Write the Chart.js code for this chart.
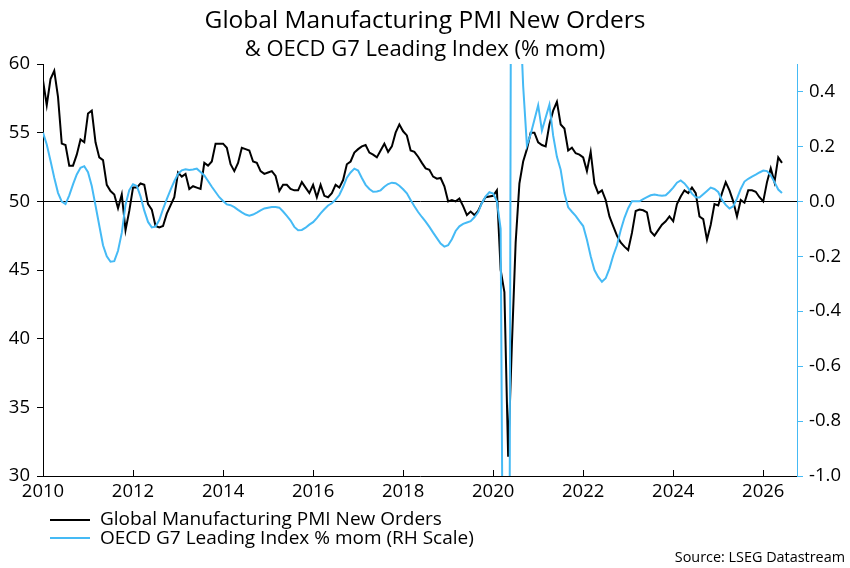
<!DOCTYPE html>
<html>
<head>
<meta charset="utf-8">
<script src="https://cdn.jsdelivr.net/npm/chart.js@4.4.1/dist/chart.umd.min.js"></script>
<style>
  html, body { margin: 0; padding: 0; background: #fff; }
  #wrap { position: relative; width: 850px; height: 568px; font-family: "Open Sans", sans-serif; color: #000; }
  #chart { position: absolute; left: 0; top: 0; }
  #title { position: absolute; left: 0; top: 4px; width: 850px; text-align: center; font-size: 24.5px; line-height: 30px; }
  #subtitle { position: absolute; left: 0; top: 33px; width: 850px; text-align: center; font-size: 22px; line-height: 28px; }
  #legend { position: absolute; left: 50px; top: 509px; font-size: 19px; line-height: 18.5px; white-space: nowrap; }
  #legend .swatch { display: inline-block; width: 40px; height: 2px; vertical-align: middle; margin-right: 10px; }
  #source { position: absolute; right: 5px; top: 548px; font-size: 14.4px; line-height: 17px; }
</style>
</head>
<body>
<div id="wrap">
  <canvas id="chart" width="850" height="568"></canvas>
  <div id="title">Global Manufacturing PMI New Orders</div>
  <div id="subtitle">&amp; OECD G7 Leading Index (% mom)</div>
  <div id="legend">
    <div><span class="swatch" style="background:#000"></span>Global Manufacturing PMI New Orders</div>
    <div><span class="swatch" style="background:#45baf5"></span>OECD G7 Leading Index % mom (RH Scale)</div>
  </div>
  <div id="source">Source: LSEG Datastream</div>
</div>
<script>
// monthly, first value = Dec 2009 (plotted at month end)
const firstMonth = 2010

const pmiNewOrders = [58.8,
  57.0, 58.9, 59.5, 57.6, 54.2, 54.1, 52.6, 52.6, 53.4, 54.5, 54.3, 56.4,
  56.6, 54.3, 53.2, 53.0, 51.2, 50.75, 50.5, 49.5, 50.5, 47.9, 49.3, 51.0,
  51.0, 51.3, 51.2, 49.8, 49.4, 48.2, 48.1, 48.2, 49.1, 49.7, 50.3, 52.1,
  51.8, 52.0, 50.9, 51.1, 51.0, 50.9, 52.8, 52.6, 52.9, 54.2, 54.2, 54.2,
  53.9, 52.7, 52.2, 52.8, 53.9, 53.8, 53.7, 52.9, 52.8, 52.2, 52.0, 52.1,
  52.2, 51.85, 50.75, 51.2, 51.2, 50.9, 50.8, 50.8, 51.4, 51.0, 50.6, 51.2,
  50.3, 51.2, 50.4, 50.3, 50.6, 51.2, 51.0, 51.55, 52.7, 52.9, 53.55, 53.8,
  54.0, 54.1, 53.55, 53.4, 53.2, 53.7, 54.2, 53.6, 54.0, 55.0, 55.6, 55.1,
  54.8, 53.7, 53.6, 53.25, 52.8, 52.4, 52.3, 51.8, 51.65, 51.7, 51.1, 50.0,
  50.1, 50.0, 50.2, 49.65, 49.0, 49.25, 49.0, 49.3, 49.9, 50.3, 50.35, 50.4,
  50.8, 45.0, 43.4, 31.4, 39.6, 47.0, 51.3, 52.9, 53.8, 55.0, 55.0, 54.3,
  54.1, 54.0, 55.6, 56.6, 57.25, 55.6, 55.3, 53.7, 53.9, 53.5, 53.4, 53.2,
  52.2, 53.6, 51.3, 50.6, 50.8, 50.1, 48.9, 48.2, 47.5, 47.0, 46.7, 46.45,
  47.7, 49.3, 49.4, 49.35, 49.2, 47.8, 47.5, 47.9, 48.3, 48.55, 48.9, 48.55,
  49.8, 50.35, 50.8, 50.6, 51.0, 50.6, 48.9, 48.7, 47.2, 48.3, 49.8, 49.7,
  50.6, 51.4, 50.8, 50.0, 48.9, 50.1, 49.9, 50.8, 50.8, 50.7, 50.3, 50.0,
  51.4, 52.4, 51.4, 53.2, 52.8]

const oecdLeadingMom = [0.25,
  0.207, 0.148, 0.086, 0.031, -0.001, -0.01, 0.022, 0.062, 0.098, 0.122, 0.128, 0.106,
  0.056, -0.015, -0.088, -0.16, -0.2, -0.22, -0.218, -0.18, -0.115, -0.012, 0.041, 0.062,
  0.056, 0.018, -0.034, -0.075, -0.095, -0.092, -0.068, -0.028, 0.008, 0.042, 0.073, 0.1,
  0.113, 0.117, 0.114, 0.116, 0.119, 0.107, 0.094, 0.074, 0.053, 0.034, 0.015, 0.001,
  -0.011, -0.014, -0.021, -0.031, -0.04, -0.048, -0.052, -0.048, -0.041, -0.033, -0.026, -0.023,
  -0.021, -0.021, -0.023, -0.037, -0.053, -0.07, -0.093, -0.105, -0.104, -0.096, -0.085, -0.076,
  -0.061, -0.044, -0.029, -0.015, -0.007, 0.006, 0.023, 0.052, 0.086, 0.105, 0.119, 0.112,
  0.085, 0.06, 0.045, 0.035, 0.036, 0.04, 0.053, 0.063, 0.068, 0.066, 0.057, 0.044,
  0.029, 0.005, -0.018, -0.039, -0.057, -0.074, -0.093, -0.114, -0.134, -0.154, -0.165, -0.16,
  -0.138, -0.108, -0.091, -0.082, -0.077, -0.072, -0.058, -0.04, -0.006, 0.018, 0.033, 0.028,
  0.0, -0.1, -2.35, -3.43, 2.27, 1.6, 0.75, 0.42, 0.204, 0.244, 0.297, 0.35,
  0.258, 0.305, 0.352, 0.239, 0.162, 0.115, 0.03, -0.022, -0.038, -0.053, -0.072, -0.09,
  -0.14, -0.2, -0.25, -0.275, -0.293, -0.28, -0.245, -0.198, -0.16, -0.105, -0.06, -0.025,
  0.0, 0.0, 0.0, 0.008, 0.015, 0.022, 0.025, 0.022, 0.02, 0.022, 0.035, 0.05,
  0.068, 0.076, 0.065, 0.048, 0.028, 0.015, 0.014, 0.026, 0.038, 0.05, 0.045, 0.034,
  0.005, -0.013, -0.026, -0.018, 0.01, 0.045, 0.072, 0.082, 0.09, 0.097, 0.105, 0.112,
  0.11, 0.095, 0.07, 0.043, 0.03]

const xTicks = [2010, 2012, 2014, 2016, 2018, 2020, 2022, 2024, 2026]
const leftTicks = [30, 35, 40, 45, 50, 55, 60]
const rightTicks = [-1.0, -0.8, -0.6, -0.4, -0.2, 0.0, 0.2, 0.4]

const BLUE = '#45baf5'
const tickFont = { family: 'Open Sans', size: 18.5 }

const toPoints = values => values.map((v, i) => ({ x: firstMonth + i / 12, y: v }))

// x axis tick marks point up into the plot
const innerXTicks = {
    id: 'innerXTicks',
    afterDraw(chart) {
        const { ctx, chartArea, scales } = chart
        ctx.save()
        ctx.strokeStyle = '#000'
        ctx.lineWidth = 1
        scales.x.ticks.forEach(t => {
            const px = Math.round(scales.x.getPixelForValue(t.value)) + 0.5
            ctx.beginPath()
            ctx.moveTo(px, chartArea.bottom)
            ctx.lineTo(px, chartArea.bottom - 6)
            ctx.stroke()
        })
        ctx.restore()
    }
}

new Chart(document.getElementById('chart').getContext('2d'), {
    type: 'line',
    data: {
        datasets: [{
            label: 'Global Manufacturing PMI New Orders',
            data: toPoints(pmiNewOrders),
            borderColor: '#000',
            borderWidth: 2,
            pointRadius: 0,
            yAxisID: 'y',
            order: 1,
            clip: 0
        }, {
            label: 'OECD G7 Leading Index % mom (RH Scale)',
            data: toPoints(oecdLeadingMom),
            borderColor: BLUE,
            borderWidth: 2,
            pointRadius: 0,
            yAxisID: 'y1',
            order: 0,
            clip: 0
        }]
    },
    options: {
        responsive: false,
        animation: false,
        devicePixelRatio: 1,
        layout: { padding: { top: 64, bottom: 62, left: 0, right: 0 } },
        plugins: { legend: { display: false }, title: { display: false }, tooltip: { enabled: false } },
        scales: {
            x: {
                type: 'linear',
                min: 2010,
                max: 2026.75,
                afterBuildTicks: s => { s.ticks = xTicks.map(v => ({ value: v })) },
                afterFit: s => { s.height = 30 },
                ticks: { font: tickFont, color: '#000', padding: 5, maxRotation: 0, autoSkip: false, callback: v => String(v) },
                grid: { drawOnChartArea: false, drawTicks: false },
                border: { color: '#000', width: 1 }
            },
            y: {
                position: 'left',
                min: 30,
                max: 60,
                afterBuildTicks: s => { s.ticks = leftTicks.map(v => ({ value: v })) },
                afterFit: s => { s.width = 43 },
                ticks: { font: tickFont, color: '#000', padding: 7, callback: v => String(v) },
                grid: {
                    color: ctx => (ctx.tick && ctx.tick.value === 50) ? '#000' : 'rgba(0,0,0,0)',
                    tickColor: '#000',
                    tickLength: 6,
                    lineWidth: 1
                },
                border: { color: '#000', width: 1 }
            },
            y1: {
                position: 'right',
                min: -1.0,
                max: 0.5,
                afterBuildTicks: s => { s.ticks = rightTicks.map(v => ({ value: v })) },
                afterFit: s => { s.width = 53 },
                ticks: { font: tickFont, color: '#000', padding: 6, callback: v => v.toFixed(1) },
                grid: { drawOnChartArea: false, tickColor: BLUE, tickLength: 6 },
                border: { color: BLUE, width: 1 }
            }
        }
    },
    plugins: [innerXTicks]
})
</script>
</body>
</html>
